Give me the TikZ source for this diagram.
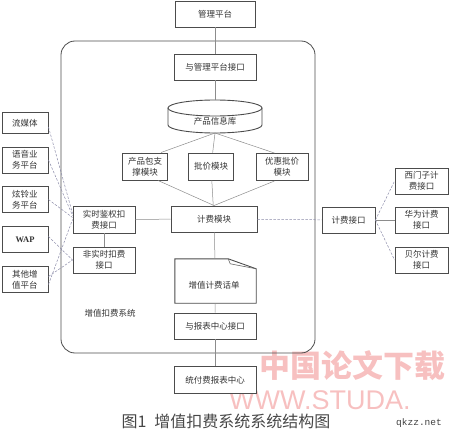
\documentclass[tikz,border=0pt]{standalone}
\usepackage{fontspec}
\setmainfont{Liberation Serif}
\newfontfamily\cjk{Noto Sans CJK SC}
\newfontfamily\wmfont{Liberation Sans}
\newfontfamily\monofont{Liberation Mono}
\usetikzlibrary{calc}
\definecolor{wmpink}{RGB}{247,192,192}
\tikzset{
  box/.style={draw=black!70, line width=0.9pt, fill=white, inner sep=1pt, align=center,
    font=\cjk\fontsize{8.5}{11}\selectfont, text=black!80},
  conn/.style={draw=black!45, line width=0.5pt},
  dconn/.style={draw=blue!25!black!45, line width=0.5pt, dash pattern=on 2.5pt off 1.5pt},
  plain/.style={inner sep=0pt, font=\cjk\fontsize{8.5}{11}\selectfont, text=black!80}
}
\begin{document}
\begin{tikzpicture}[x=1pt,y=1pt]
\useasboundingbox (0,0) rectangle (450,-433);
% watermark
\node[inner sep=0, anchor=west, font=\cjk\bfseries\fontsize{31}{31}\selectfont, text=wmpink] (wm1) at (259,-366) {中国论文下载};
\node[inner sep=0, anchor=west, font=\wmfont\fontsize{27}{27}\selectfont, text=wmpink] (wm2) at (229,-400) {WWW.STUDA.};
% system container
\node[draw=black!70, line width=0.8pt, rounded corners=14pt, minimum width=254pt, minimum height=312pt] (sys) at (188,-197) {};
\node[plain] (syslbl) at (110,-313) {增值扣费系统};
% top
\node[box, minimum width=80pt, minimum height=26pt] (mgmt) at (215,-14) {管理平台};
\node[box, minimum width=82pt, minimum height=26pt] (mi) at (215,-67) {与管理平台接口};
% cylinder
\coordinate (dbt) at (215,-100);
\coordinate (dbb) at (215,-133);
\draw[draw=black!70, line width=0.9pt, fill=white] (168,-108) -- (168,-125) arc[start angle=180, end angle=360, x radius=47pt, y radius=8pt] -- (262,-108);
\draw[draw=black!70, line width=0.9pt, fill=white] (215,-108) ellipse [x radius=47pt, y radius=8pt];
\node[plain] (db) at (215,-121) {产品信息库};
% modules
\node[box, minimum width=45pt, minimum height=27pt] (cp) at (145,-166.5) {产品包支\\撑模块};
\node[box, minimum width=45pt, minimum height=27pt] (pj) at (211,-166.5) {批价模块};
\node[box, minimum width=52pt, minimum height=27pt] (yh) at (282,-167) {优惠批价\\模块};
\node[box, minimum width=86pt, minimum height=26pt] (jf) at (214,-219) {计费模块};
% bill document
\node[minimum width=81pt, minimum height=44pt, inner sep=0] (bill) at (215.5,-281) {};
\draw[draw=black!70, line width=0.9pt, fill=white] (bill.south west) |- ($(bill.north east)+(-28,0)$) -- ($(bill.north east)+(0,-10)$) -- (bill.south east) -- cycle;
\draw[draw=black!60, line width=0.6pt] ($(bill.north east)+(-28,0)$) -- ($(bill.north east)+(-26,-5)$) -- ($(bill.north east)+(0,-10)$);
\node[plain] (billt) at (214,-285) {增值计费话单};
\node[box, minimum width=82pt, minimum height=26pt] (ri) at (215,-326) {与报表中心接口};
\node[box, minimum width=82pt, minimum height=27pt] (rc) at (215,-380) {统付费报表中心};
% right
\node[box, minimum width=53pt, minimum height=26pt] (jk) at (348.5,-220) {计费接口};
\node[box, minimum width=53pt, minimum height=26pt] (xm) at (421.5,-181) {西门子计\\费接口};
\node[box, minimum width=53pt, minimum height=26pt] (hw) at (421.5,-220) {华为计费\\接口};
\node[box, minimum width=53pt, minimum height=26pt] (be) at (421.5,-260) {贝尔计费\\接口};
% left
\node[box, minimum width=46pt, minimum height=21pt] (lm) at (25,-123) {流媒体};
\node[box, minimum width=46pt, minimum height=26pt] (yy) at (25,-160) {语音业\\务平台};
\node[box, minimum width=46pt, minimum height=26pt] (xl) at (25,-199.5) {炫铃业\\务平台};
\node[box, minimum width=46pt, minimum height=26pt, font=\bfseries\fontsize{8.5}{11}\selectfont] (wap) at (25,-239.5) {WAP};
\node[box, minimum width=46pt, minimum height=26pt] (qt) at (25,-279.5) {其他增\\值平台};
\node[box, minimum width=62pt, minimum height=27pt] (ss) at (104,-219.5) {实时鉴权扣\\费接口};
\node[box, minimum width=62pt, minimum height=26pt] (fs) at (104,-260) {非实时扣费\\接口};
% connectors
\draw[conn] (mgmt) -- (mi);
\draw[conn] (mi) -- (dbt);
\draw[conn] (dbb) -- (pj);
\draw[conn] (pj) -- (jf);
\draw[conn] (dbb) -- ($(cp.north east)+(-7,0)$);
\draw[conn] (dbb) -- ($(yh.north west)+(19,0)$);
\draw[conn] ($(cp.south east)+(-10,0)$) -- (jf.north);
\draw[conn] ($(yh.south west)+(19,0)$) -- (jf.north);
\draw[conn] (jf) -- (bill);
\draw[conn] (bill) -- (ri);
\draw[conn] (ri) -- (rc);
\draw[conn] (ss) -- (jf);
\draw[conn] (ss) -- (fs);
\draw[dconn] (jf) -- (jk);
\draw[conn] (jk) -- (hw);
\draw[dconn] (jk.east) -- (xm.west);
\draw[dconn] (jk.east) -- (be.west);
\draw[dconn] ($(lm.east)+(0,-4)$) -- ($(ss.west)+(0,6)$);
\draw[dconn] (yy.east) -- ($(ss.west)+(0,4)$);
\draw[dconn] (xl.east) -- ($(ss.west)+(0,2)$);
\draw[dconn] ($(qt.east)+(0,-5)$) -- ($(ss.west)+(0,0)$);
\draw[dconn] ($(wap.east)+(0,3)$) -- (fs.west);
\draw[dconn] ($(qt.east)+(0,3)$) -- (fs.west);
% caption
\node[inner sep=0, font=\cjk\fontsize{16}{18}\selectfont, text=black!72] (cap) at (226,-421) {图1\hspace{0.5em}增值扣费系统系统结构图};
\node[inner sep=0, font=\monofont\fontsize{9.5}{10}\selectfont, text=black!75] (qk) at (419,-423) {qkzz.net};
\end{tikzpicture}
\end{document}
